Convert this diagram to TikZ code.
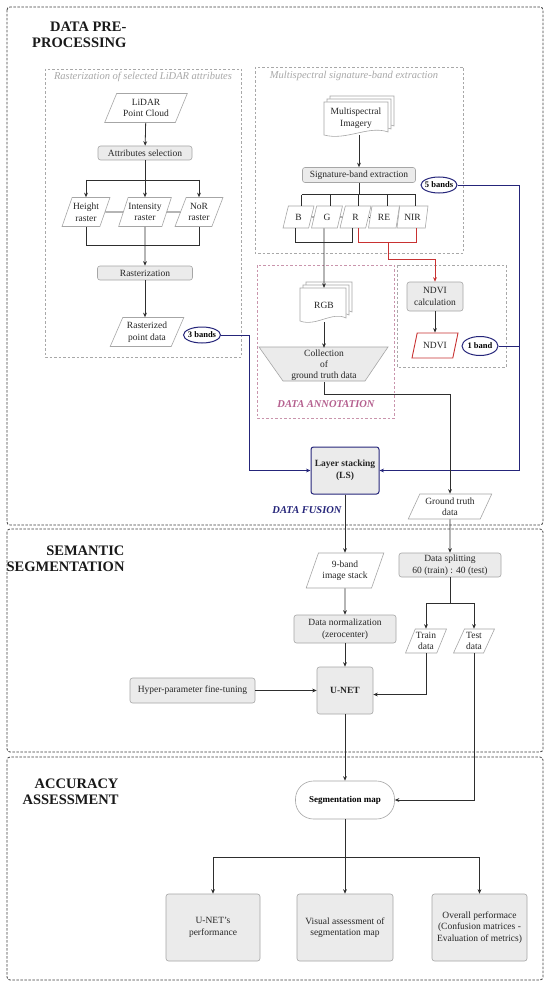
\documentclass[tikz,border=0pt]{standalone}
\usepackage{fontspec}
\setmainfont{Liberation Serif}
\usetikzlibrary{shapes.geometric,arrows.meta,calc}
\definecolor{boxfill}{HTML}{EBEBEB}
\definecolor{boxline}{HTML}{A6A6A6}
\definecolor{navyc}{HTML}{25257A}
\definecolor{redc}{HTML}{C83232}
\definecolor{pinkc}{HTML}{B5608F}
\definecolor{pinkbox}{HTML}{C994AC}
\definecolor{subgray}{HTML}{A8A8A8}
\definecolor{linec}{HTML}{2E2E2E}
\newcommand{\onedoc}[4]{\draw[docsty] (#1,#2) -- (#1+#3,#2) -- (#1+#3,#2+#4-4) .. controls (#1+0.7*#3,#2+#4-11) and (#1+0.35*#3,#2+#4+5) .. (#1,#2+#4-1) -- cycle;}
\newcommand{\multidocs}[4]{\onedoc{#1+6}{#2-6}{#3}{#4}\onedoc{#1+3}{#2-3}{#3}{#4}\onedoc{#1}{#2}{#3}{#4}}
\begin{document}
\begin{tikzpicture}[x=1pt,y=-1pt,
  font=\fontsize{9.5}{11.5}\selectfont,
  proc/.style={draw=boxline,fill=boxfill,rounded corners=2.5pt,line width=0.6pt,align=center,inner sep=1pt,text=black!85},
  io/.style={trapezium,trapezium left angle=63,trapezium right angle=117,trapezium stretches=true,draw=boxline,fill=white,line width=0.6pt,align=center,inner sep=0.3pt,text=black!85},
  bandio/.style={io,trapezium left angle=75,trapezium right angle=105},
  ell/.style={ellipse,draw=navyc,line width=1pt,fill=white,font=\fontsize{8.5}{10}\selectfont\bfseries,inner sep=-2pt},
  docsty/.style={draw=boxline,fill=white,line width=0.6pt},
  arr/.style={-{Stealth[length=4.5pt,width=3.8pt]},line width=0.8pt,draw=linec},
  ln/.style={line width=0.8pt,draw=linec},
  navl/.style={line width=0.9pt,draw=navyc},
  navarr/.style={navl,-{Stealth[length=4.5pt,width=3.8pt]}},
  redl/.style={line width=0.9pt,draw=redc},
  redarr/.style={redl,-{Stealth[length=4.5pt,width=3.8pt]}},
  secbox/.style={draw=black!75,line width=0.8pt,dash pattern=on 2.5pt off 1.5pt,rounded corners=3pt},
  subbox/.style={draw=subgray,line width=0.6pt,dash pattern=on 2.5pt off 2pt},
  sectitle/.style={font=\fontsize{14.5}{16.5}\selectfont\bfseries,align=right,anchor=east,text=black!90},
  subtitle/.style={font=\fontsize{10.5}{12}\selectfont\itshape,text=subgray}
]
\useasboundingbox (0,0) rectangle (550,987);
\fill[white] (0,0) rectangle (550,987);

% sections
\draw[secbox] (7,7) rectangle (543,525);
\draw[secbox] (7,529) rectangle (543,752);
\draw[secbox] (7,757) rectangle (543,980);
\node[sectitle] (t1) at (130,35) {DATA PRE-\\PROCESSING};
\node[sectitle] (t2) at (128,559) {SEMANTIC\\SEGMENTATION};
\node[sectitle] (t3) at (122,792) {ACCURACY\\ASSESSMENT};

% sub boxes
\draw[subbox] (45,69) rectangle (241,357);
\node[subtitle] (st1) at (143,77) {Rasterization of selected LiDAR attributes};
\draw[subbox] (255,67) rectangle (463,253);
\node[subtitle] (st2) at (354,76) {Multispectral signature-band extraction};
\draw[subbox,draw=pinkbox] (257,265) rectangle (394,418);
\node[font=\fontsize{10.5}{12}\selectfont\bfseries\itshape,text=pinkc] (annot) at (326,404) {DATA ANNOTATION};
\draw[subbox] (397,265) rectangle (506,367);

% LiDAR column
\node[io,minimum width=83,minimum height=29] (lidar) at (146,108) {LiDAR\\Point Cloud};
\node[proc,minimum width=94,minimum height=14] (attsel) at (145,153) {Attributes selection};
\node[io,minimum width=48,minimum height=29] (hr) at (86,212) {Height\\raster};
\node[io,minimum width=50,minimum height=29] (ir) at (145,212) {Intensity\\raster};
\node[io,minimum width=48,minimum height=29] (nr) at (199,212) {NoR\\raster};
\node[proc,minimum width=95,minimum height=14] (rast) at (145,273) {Rasterization};
\node[io,minimum width=74,minimum height=29] (rpd) at (147,332) {Rasterized\\point data};
\node[ell,minimum width=37,minimum height=16] (b3) at (202,335) {3 bands};

\draw[arr] (lidar) -- (attsel);
\draw[ln] (attsel.south) -- (attsel.south |- 0,180);
\draw[ln] (hr.north |- 0,180) -- (nr.north |- 0,180);
\draw[arr] (hr.north |- 0,180) -- (hr.north);
\draw[arr] (ir.north |- 0,180) -- (ir.north);
\draw[arr] (nr.north |- 0,180) -- (nr.north);
\draw[ln] (hr.east) -- (ir.west);
\draw[ln] (ir.east) -- (nr.west);
\draw[ln] (hr.south) -- (hr.south |- 0,245) -- (nr.south |- 0,245) -- (nr.south);
\draw[arr] (ir.south) -- (rast.north);
\draw[arr] (rast.south) -- (rast.south |- rpd.north);

% Multispectral
\multidocs{324}{102}{64}{34}
\node[minimum width=64,minimum height=34,inner sep=0,align=center,text=black!85] (msi) at (356,118) {Multispectral\\Imagery};
\node[proc,minimum width=113,minimum height=15] (sig) at (359,175) {Signature-band extraction};
\node[ell,minimum width=36,minimum height=16] (b5) at (439,185) {5 bands};
\draw[arr] (msi.south -| sig.north) -- (sig.north);

\foreach \n/\x in {B/298.5,G/327,R/355.5,RE/384,NIR/412.5}
  \node[bandio,minimum width=31,minimum height=22] (\n) at (\x,217) {\n};
\foreach \n in {B,G,R,RE,NIR}
  \draw[ln] ($(\n.north)+(3,0)$) -- ++(0,-11);
\draw[ln] ($(B.north)+(3,-11)$) -- ($(NIR.north)+(3,-11)$);
\draw[ln] (sig.south) -- ($(sig.south |- B.north)+(0,-11)$);
\draw[ln] (B.east) -- (G.west);
\draw[ln] (G.east) -- (R.west);
\draw[ln] (R.east) -- (RE.west);
\draw[ln] (RE.east) -- (NIR.west);
\draw[ln] ($(B.south)+(-3,0)$) -- ++(0,14) -| ($(R.south)+(-3,0)$);
\draw[redl] ($(R.south)+(3,0)$) -- ++(0,14) -| ($(NIR.south)+(4,0)$);

% RGB and annotation
\multidocs{300}{288}{46}{34}
\node[minimum width=46,minimum height=34,inner sep=0,text=black!85] (rgb) at (324,305) {RGB};
\draw[arr] ($(G.south)+(-3,0)$) -- (rgb.north);
\draw[draw=boxline,fill=boxfill,line width=0.6pt] (259,347) -- (388,347) -- (365,381) -- (283,381) -- cycle;
\node[minimum height=34,inner sep=0,align=center,font=\fontsize{9.5}{10.8}\selectfont,text=black!85] (coll) at (324,365) {Collection\\of\\ground truth data};
\draw[arr] (rgb.south) -- (coll.north);

% NDVI
\node[proc,minimum width=56,minimum height=29] (ndvic) at (435,296.5) {NDVI\\calculation};
\node[io,draw=redc,line width=0.9pt,minimum width=46,minimum height=25] (ndvi) at (435,345.5) {NDVI};
\node[ell,minimum width=36,minimum height=19] (b1) at (480,346) {1 band};
\coordinate (rj) at (388,242);
\draw[redarr] (rj) -- ++(0,17) -| (ndvic.north);
\draw[arr] (ndvic) -- (ndvi);
\coordinate (navR) at (519,346);
\draw[navl] (b1.east) -- (navR);

% Fusion
\node[proc,draw=navyc,line width=1pt,minimum width=68,minimum height=47,font=\fontsize{9.5}{12}\selectfont\bfseries] (ls) at (345,470.5) {Layer stacking\\(LS)};
\draw[navarr] (b3.east) -| ($(ls.west)+(-61,0)$) -- (ls.west);
\draw[navarr] (b5.east) -| ($(ls.east)+(140,0)$) -- (ls.east);
\node[font=\fontsize{10.5}{12}\selectfont\bfseries\itshape,text=navyc] (fus) at (307,510) {DATA FUSION};
\node[io,minimum width=84,minimum height=25] (gtd) at (450,506.5) {Ground truth\\data};
\draw[arr] (coll.south) -- ++(0,12) -| (gtd.north);

% Semantic segmentation
\node[io,minimum width=78,minimum height=35] (nine) at (345,570.5) {9-band\\image stack};
\draw[arr] (ls) -- (nine);
\node[proc,minimum width=102,minimum height=24] (split) at (450,565) {Data splitting\\60 (train) : 40 (test)};
\draw[arr] (gtd) -- (split);
\node[proc,minimum width=102,minimum height=28] (norm) at (345,629) {Data normalization\\(zerocenter)};
\draw[arr] (nine) -- (norm);
\node[proc,minimum width=56,minimum height=47,font=\fontsize{9.5}{11}\selectfont\bfseries] (unet) at (345,690.5) {U-NET};
\draw[arr] (norm) -- (unet);
\node[io,minimum width=41,minimum height=24] (train) at (426,641) {Train\\data};
\node[io,minimum width=41,minimum height=24] (test) at (474,641) {Test\\data};
\draw[ln] (split.south) -- (split.south |- 0,603);
\draw[ln] (train.north |- 0,603) -- (test.north |- 0,603);
\draw[arr] (train.north |- 0,603) -- (train.north);
\draw[arr] (test.north |- 0,603) -- (test.north);
\draw[arr] (train.south) |- ($(unet.east)+(0,4)$);
\node[proc,minimum width=125,minimum height=25] (hyper) at (192.5,690.5) {Hyper-parameter fine-tuning};
\draw[arr] (hyper) -- (unet);

% Accuracy
\node[draw=boxline,fill=white,rounded corners=18pt,minimum width=99,minimum height=38,line width=0.6pt,font=\fontsize{9}{11}\selectfont\bfseries] (seg) at (345,800) {Segmentation map};
\draw[arr] (unet) -- (seg);
\draw[arr] (test.south) |- (seg.east);
\node[proc,minimum width=94,minimum height=67] (p1) at (213,927.5) {U-NET's\\performance};
\node[proc,minimum width=96,minimum height=67] (p2) at (345,927.5) {Visual assessment of\\segmentation map};
\node[proc,minimum width=95,minimum height=67] (p3) at (479.5,927.5) {Overall performace\\(Confusion matrices -\\Evaluation of metrics)};
\draw[ln] (seg.south) -- (seg.south |- 0,857);
\draw[ln] (p1.north |- 0,857) -- (p3.north |- 0,857);
\draw[arr] (p1.north |- 0,857) -- (p1.north);
\draw[arr] (p2.north |- 0,857) -- (p2.north);
\draw[arr] (p3.north |- 0,857) -- (p3.north);
\end{tikzpicture}
\end{document}
